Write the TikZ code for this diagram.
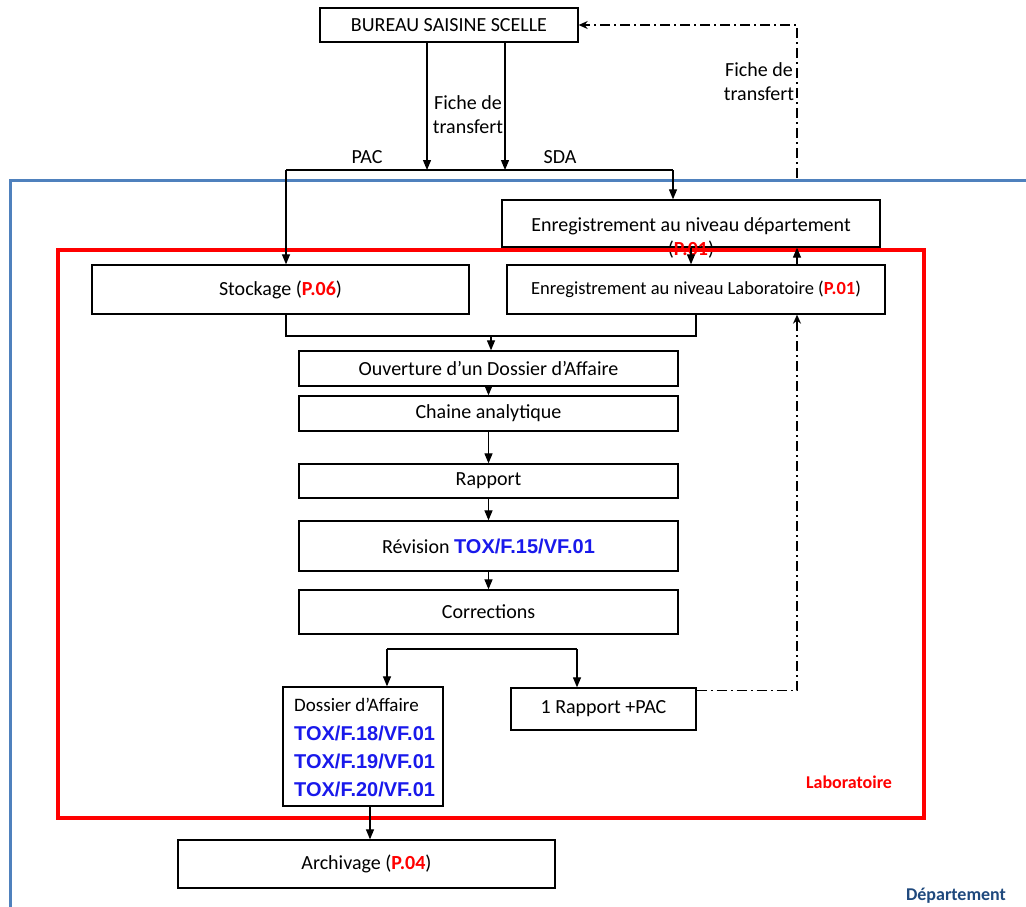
\documentclass[tikz,border=0pt]{standalone}
\usepackage{fontspec}
\setmainfont{Carlito}
\newfontfamily\codefont{Liberation Sans}
\usetikzlibrary{arrows.meta}
\definecolor{cadreblue}{RGB}{79,129,189}
\definecolor{codeblue}{RGB}{25,25,235}
\definecolor{deptblue}{RGB}{31,73,125}
\newcommand{\proc}[1]{\textcolor{red}{\textbf{#1}}}
\newcommand{\toxref}[1]{\textcolor{codeblue}{\codefont\bfseries\fontsize{20}{28}\selectfont #1}}
\begin{document}
\begin{tikzpicture}[x=1pt,y=-1pt,
    every node/.style={font=\fontsize{20}{24}\selectfont},
    box/.style={draw,line width=1.3pt,inner sep=0pt},
    fleche/.style={line width=1.2pt,-{Triangle[length=10pt,width=8pt]}},
    retour/.style={line width=1.3pt,dash pattern=on 10pt off 4pt on 2pt off 4pt}]
\useasboundingbox (0,0) rectangle (1026,906);
% cadre departement
\draw[cadreblue,line width=3pt] (10,180) rectangle (1040,930);
% boites
\node[box,minimum width=258,minimum height=34] (bureau) at (449,25) {BUREAU SAISINE SCELLE};
\node[box,minimum width=378,minimum height=47] (dept) at (691,223.5) {};
\node[align=center] (depttxt) at (691,238) {Enregistrement au niveau département\\(\proc{P.01})};
\node[box,minimum width=377,minimum height=49] (stock) at (280.5,289.5) {Stockage (\proc{P.06})};
\node[box,minimum width=378,minimum height=49,font=\fontsize{18.5}{22}\selectfont] (labo) at (696,289.5) {Enregistrement au niveau Laboratoire (\proc{P.01})};
\node[box,minimum width=379,minimum height=35] (ouv) at (488.5,368.5) {Ouverture d’un Dossier d’Affaire};
\node[box,minimum width=379,minimum height=35] (chaine) at (488.5,413.5) {Chaine analytique};
\node[box,minimum width=379,minimum height=34] (rapport) at (488.5,481) {Rapport};
\node[box,minimum width=379,minimum height=50] (revision) at (488.5,546) {Révision \toxref{TOX/F.15/VF.01}};
\node[box,minimum width=379,minimum height=44] (corr) at (488.5,612) {Corrections};
\node[box,minimum width=160,minimum height=119] (dossier) at (363,746.5) {};
\node[anchor=north west,align=left,inner sep=0pt,font=\fontsize{20}{28}\selectfont] (dossiertxt) at (294,698) {{\fontsize{19}{28}\selectfont Dossier d’Affaire}\\[1pt]\toxref{TOX/F.18/VF.01}\\\toxref{TOX/F.19/VF.01}\\\toxref{TOX/F.20/VF.01}};
\node[box,minimum width=185,minimum height=42] (rpac) at (603.5,709) {1 Rapport +PAC};
\node[box,minimum width=377,minimum height=48] (archiv) at (366.5,864) {Archivage (\proc{P.04})};
% cadre laboratoire
\draw[red,line width=3.5pt] (58,250) rectangle (924,818);
% textes
\node[align=center] (fiche) at (468,115) {Fiche de\\transfert};
\node (pac) at (367,157) {PAC};
\node (sda) at (560,157) {SDA};
\node[align=center] (ficheret) at (759,82) {Fiche de\\transfert};
\node[font=\fontsize{18}{22}\selectfont\bfseries,text=red] (labotag) at (849,782) {Laboratoire};
\node[font=\fontsize{18}{22}\selectfont\bfseries,text=deptblue] (depttag) at (956,896) {Département};
% fleches
\coordinate (hg) at (286,170);
\coordinate (hd) at (673,170);
\coordinate (xr) at (797,0);
\coordinate (jb) at (491,336);
\coordinate (bg) at (387,649);
\coordinate (bd) at (577,649);
\coordinate (depart) at (797,178);
\draw[fleche] ([xshift=-22pt]bureau.south) -- ([xshift=-22pt]bureau.south |- hg);
\draw[fleche] ([xshift=56pt]bureau.south) -- ([xshift=56pt]bureau.south |- hg);
\draw[line width=1.2pt] (hg) -- (hd);
\draw[fleche] (hg) -- (stock.north -| hg);
\draw[fleche] (hd) -- (dept.north -| hd);
\draw[fleche] (dept.south) -- (labo.north -| dept.south);
\draw[fleche] (labo.north -| xr) -- (dept.south -| xr);
\draw[line width=1.2pt] (stock.south -| hg) |- (jb) -| (labo.south);
\draw[fleche] (jb) -- (ouv.north -| jb);
\draw[fleche] (ouv.south) -- (chaine.north);
\draw[fleche] (chaine.south) -- (rapport.north);
\draw[fleche] (rapport.south) -- (revision.north);
\draw[fleche] (revision.south) -- (corr.north);
\draw[line width=1.2pt] (bg) -- (bd);
\draw[fleche] (bg) -- (dossier.north -| bg);
\draw[fleche] (bd) -- (rpac.north -| bd);
\draw[fleche] ([xshift=7pt]dossier.south) -- ([xshift=7pt]dossier.south |- archiv.north);
% fiche de transfert retour
\draw[retour,-{Stealth[length=9pt,width=8pt]}] ([yshift=-3pt]rpac.north east) -| (labo.south -| xr);
\draw[retour,-{Stealth[length=9pt,width=8pt]}] (depart) |- (bureau.east);
\end{tikzpicture}
\end{document}
